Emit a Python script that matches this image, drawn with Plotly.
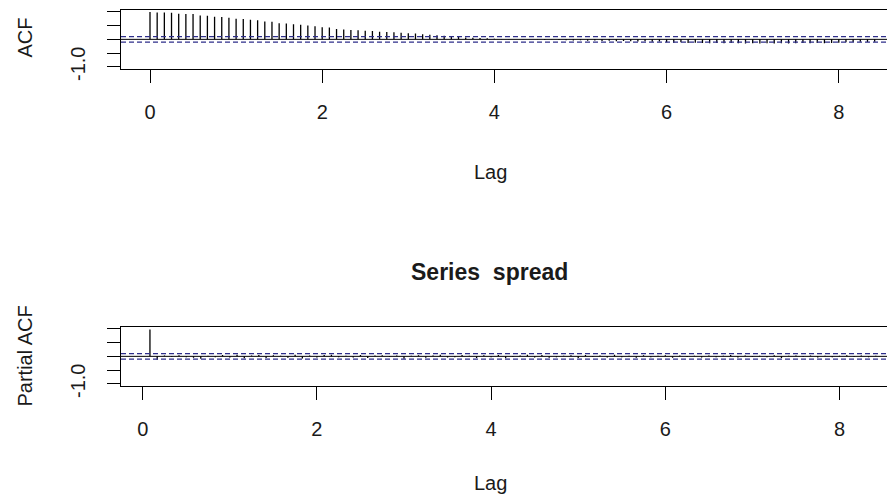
import plotly.graph_objects as go

# ---------------- data ----------------
FREQ = 12  # lags are shown in years (monthly series)

acf_values = [
    1.00, 0.98, 0.98, 0.97, 0.93, 0.92, 0.92, 0.87, 0.86, 0.82, 0.81, 0.79,
    0.75, 0.74, 0.71, 0.70, 0.65, 0.64, 0.59, 0.58, 0.55, 0.53, 0.50, 0.48,
    0.44, 0.43, 0.38, 0.36, 0.34, 0.33, 0.31, 0.30, 0.28, 0.27, 0.26, 0.24,
    0.22, 0.21, 0.19, 0.17, 0.15, 0.13, 0.11, 0.09, 0.07, 0.06, 0.05, 0.04,
    0.02, 0.01, 0.01, 0.00, -0.01, 0.00, -0.01, -0.02, -0.01, -0.02, -0.03, -0.04,
    -0.03, -0.05, -0.04, -0.06, -0.05, -0.07, -0.06, -0.07, -0.08, -0.07, -0.09, -0.08,
    -0.11, -0.12, -0.11, -0.13, -0.12, -0.13, -0.14, -0.13, -0.14, -0.13, -0.14, -0.15,
    -0.14, -0.15, -0.14, -0.15, -0.14, -0.15, -0.14, -0.13, -0.14, -0.13, -0.14, -0.13,
    -0.12, -0.11, -0.10, -0.09, -0.10, -0.09,
]

pacf_values = [
    0.98,
    -0.12, 0.03, -0.02, 0.04, -0.03, -0.05, -0.09, 0.02, -0.03, 0.05,
    -0.04, 0.06, -0.07, 0.03, 0.05, -0.06, 0.04, 0.02, -0.05, 0.06,
    -0.08, 0.03, -0.04, 0.05, 0.06, -0.03, 0.02, -0.04, 0.05, -0.06,
    0.03, 0.04, -0.02, 0.03, -0.09, 0.02, 0.04, -0.05, 0.03, 0.06,
    -0.04, -0.03, 0.05, 0.02, -0.06, 0.04, -0.03, 0.05, -0.07, -0.02,
    0.03, 0.06, -0.04, 0.05, -0.05, -0.03, 0.02, 0.04, -0.06, 0.05,
    -0.02, 0.03, -0.04, 0.06, -0.03, 0.02, -0.05, 0.04, -0.03, 0.02,
    0.04, -0.05, 0.03, -0.02, 0.02, -0.04, 0.03, -0.03, 0.02, 0.05,
    -0.04, 0.03, -0.02, 0.02, -0.03, 0.04, -0.06, 0.02, 0.03, -0.02,
    0.03, -0.04, 0.02, -0.03, 0.02, 0.04, -0.02, 0.03, -0.03, 0.02,
]

ci = 0.10  # confidence bound (dashed lines)

x_tick_vals = [0, 2, 4, 6, 8]
x_tick_text = ["0", "2", "4", "6", "8"]
y_tick_vals = [-1.0, -0.5, 0.0, 0.5, 1.0]
y_tick_text = ["-1.0", "", "", "", ""]

title_text = "Series  spread"
acf_label = "ACF"
pacf_label = "Partial ACF"
lag_label = "Lag"

# ---------------- derived ----------------
acf_lags = [i / FREQ for i in range(len(acf_values))]
pacf_lags = [(i + 1) / FREQ for i in range(len(pacf_values))]


def stems(lags, vals):
    xs, ys = [], []
    for l, v in zip(lags, vals):
        xs += [l, l, None]
        ys += [0, v, None]
    return xs, ys


W, H = 887, 500
FONT = "Liberation Sans, Arial, sans-serif"
TXT = "#1a1a1a"
CI_COL = "#2e2e8a"

fig = go.Figure()
ax, ay = stems(acf_lags, acf_values)
fig.add_trace(go.Scatter(x=ax, y=ay, mode="lines", line=dict(color="black", width=1.3),
                         xaxis="x", yaxis="y", hoverinfo="skip"))
px_, py_ = stems(pacf_lags, pacf_values)
fig.add_trace(go.Scatter(x=px_, y=py_, mode="lines", line=dict(color="black", width=1.3),
                         xaxis="x2", yaxis="y2", hoverinfo="skip"))

x_left = 121 / W


def xaxis(anchor, rng):
    return dict(domain=[x_left, 1], range=rng, anchor=anchor, automargin=False,
                tickvals=x_tick_vals, ticktext=x_tick_text,
                ticks="outside", ticklen=13, tickwidth=1, tickcolor="black",
                showline=True, linecolor="black", linewidth=1, mirror=True,
                showgrid=False, zeroline=False,
                tickfont=dict(family=FONT, size=20, color=TXT),
                ticklabelstandoff=12)


def yaxis(anchor, dom):
    return dict(domain=dom, range=[-1.08, 1.08], anchor=anchor, automargin=False,
                tickvals=y_tick_vals, ticktext=y_tick_text, tickangle=-90,
                ticks="outside", ticklen=13, tickwidth=1, tickcolor="black",
                showline=True, linecolor="black", linewidth=1, mirror=False,
                showgrid=False, zeroline=False,
                tickfont=dict(family=FONT, size=20, color=TXT),
                ticklabelstandoff=14)


shapes = []
for yr, xr in (("y", "x"), ("y2", "x2")):
    shapes.append(dict(type="line", xref=xr + " domain", yref=yr, x0=0, x1=1, y0=0, y1=0,
                       line=dict(color="black", width=1)))
    for s in (ci, -ci):
        shapes.append(dict(type="line", xref=xr + " domain", yref=yr, x0=0, x1=1, y0=s, y1=s,
                           line=dict(color=CI_COL, width=1.3, dash="5px,3px")))


def ann(text, xpx, ypx, size=20, angle=0, bold=False):
    t = f"<b>{text}</b>" if bold else text
    return dict(text=t, x=xpx / W, y=1 - ypx / H, xref="paper", yref="paper",
                showarrow=False, textangle=angle, xanchor="center", yanchor="middle",
                font=dict(family=FONT, size=size, color=TXT))


annotations = [
    ann(acf_label, 24.5, 38, angle=-90),
    ann(pacf_label, 24.5, 356, angle=-90),
    ann(lag_label, 490, 172),
    ann(lag_label, 490, 483),
    ann(title_text, 489, 272, size=23, bold=True),
]

fig.update_layout(
    width=W, height=H, margin=dict(l=0, r=0, t=0, b=0, pad=0, autoexpand=False),
    paper_bgcolor="white", plot_bgcolor="white", showlegend=False,
    xaxis=xaxis("y", [-0.3368, 8.560]),
    yaxis=yaxis("x", [1 - 69 / H, 1 - 9.7 / H]),
    xaxis2=xaxis("y2", [-0.249, 8.545]),
    yaxis2=yaxis("x2", [1 - 386 / H, 1 - 326.7 / H]),
    shapes=shapes, annotations=annotations,
)

fig.write_html("out.html")
